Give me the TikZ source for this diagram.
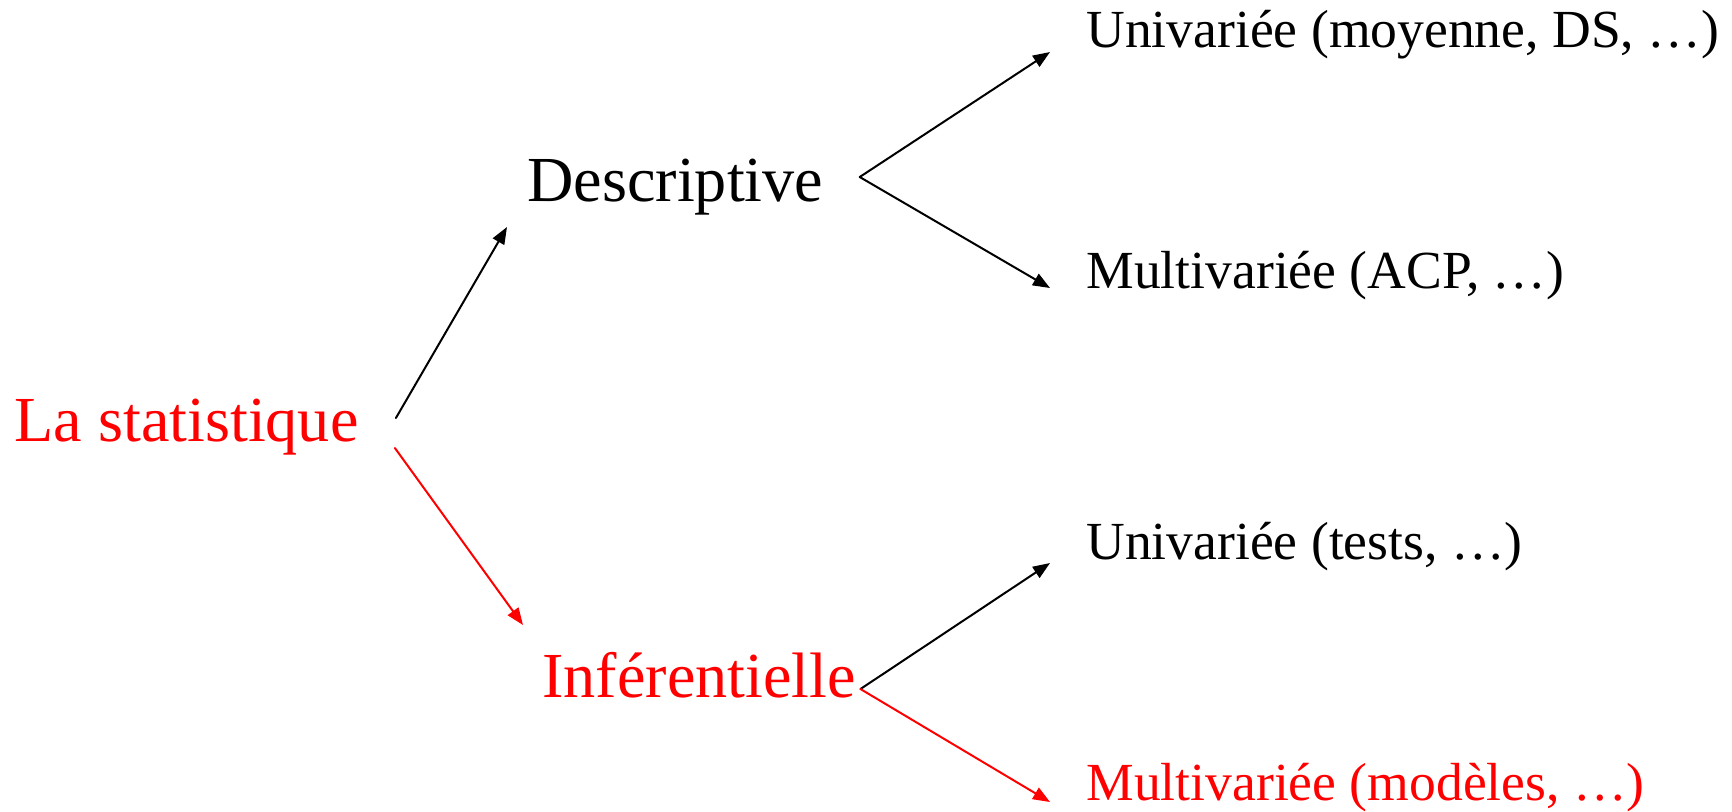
\documentclass[tikz,border=0pt]{standalone}
\usepackage{fontspec}
\setmainfont{Liberation Serif}
\usepackage{xcolor}
\usepackage{tikz}
\usetikzlibrary{arrows.meta,calc}

\begin{document}
\begin{tikzpicture}[x=0.5pt, y=-0.5pt, >={Triangle[length=8.5pt,width=6.5pt]},
  lbl/.style={anchor=base west, inner sep=0pt},
  big/.style={lbl, font=\fontsize{32.1}{38}\selectfont},
  small/.style={lbl, font=\fontsize{26.8}{32}\selectfont},
  link/.style={->, line width=1pt, line cap=round}]
\useasboundingbox (0,0) rectangle (1732,811);
\node[big, text=red] (stat) at (14,441) {La statistique};
\node[big] (desc) at (527,201) {Descriptive};
\node[big, text=red] (inf) at (542,697) {Inférentielle};
\node[small] (duniv) at (1086,47) {Univariée (moyenne, DS, …)};
\node[small] (dmulti) at (1086,288) {Multivariée (ACP, …)};
\node[small] (iuniv) at (1086,559) {Univariée (tests, …)};
\node[small, text=red] (imulti) at (1086,800) {Multivariée (modèles, …)};
% fork points
\coordinate (dfork) at ([shift={(36,-24)}]desc.base east);
\coordinate (ifork) at ([shift={(4,-8)}]inf.base east);
\draw[link] ([shift={(37,-23)}]stat.base east) -- ([shift={(-20,26)}]desc.base west);
\draw[link, red] ([shift={(36,7)}]stat.base east) -- ([shift={(-19,-72)}]inf.base west);
\draw[link] (dfork) -- ([shift={(-36,5)}]duniv.base west);
\draw[link] (dfork) -- ([shift={(-36,0)}]dmulti.base west);
\draw[link] (ifork) -- ([shift={(-36,4)}]iuniv.base west);
\draw[link, red] (ifork) -- ([shift={(-36,2)}]imulti.base west);
\end{tikzpicture}
\end{document}
